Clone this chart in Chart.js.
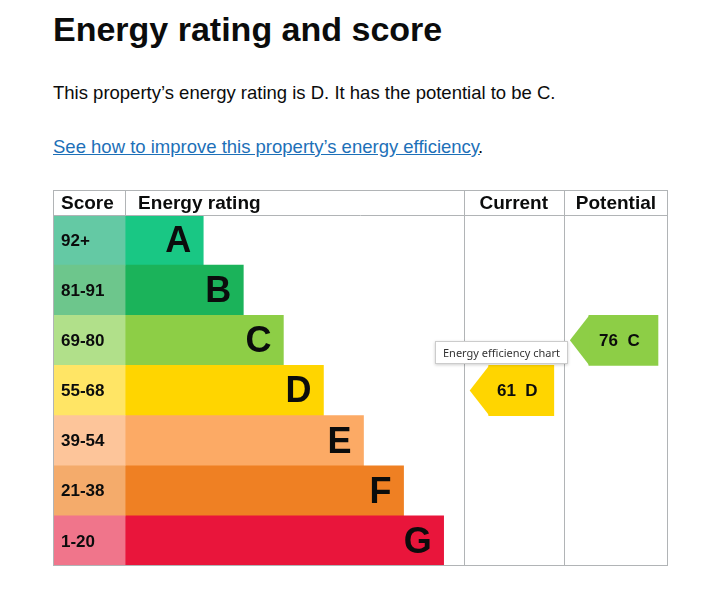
<!DOCTYPE html>
<html><head><meta charset="utf-8">
<script src="https://cdn.jsdelivr.net/npm/chart.js@4"></script>
<style>
body{margin:0;background:#fff;font-family:"Liberation Sans",Arial,sans-serif;color:#0b0c0c;}
h1{position:absolute;left:53px;top:10px;margin:0;font-size:34px;font-weight:bold;}
p.t{position:absolute;left:53px;top:82px;margin:0;font-size:18.5px;}
a.l{position:absolute;left:53px;top:136px;font-size:18.5px;color:#1d70b8;text-decoration:underline;}
#wrap{position:absolute;left:53px;top:190px;width:615px;height:376px;}
#tip{position:absolute;left:435px;top:341px;padding:3px 7px;font-family:"Noto Sans",sans-serif;font-size:11px;color:#333;background:#fff;border:1px solid #ccc;box-shadow:0 1px 3px rgba(0,0,0,.2);}
</style></head><body>
<h1>Energy rating and score</h1>
<p class="t">This property’s energy rating is D. It has the potential to be C.</p>
<a class="l" href="#">See how to improve this property’s energy efficiency</a><span style="position:absolute;left:478px;top:136px;font-size:18.5px">.</span>
<div id="wrap"><canvas id="c"></canvas></div>
<div id="tip">Energy efficiency chart</div>
<script>
const bands = ['A','B','C','D','E','F','G'];
const scores = ['92+','81-91','69-80','55-68','39-54','21-38','1-20'];
const barEnds = [150,190,230,270,310,350,390];
const barColors = ['#19c784','#1bb35a','#8dce46','#ffd500','#fcaa65','#ef8023','#e9153b'];
const scoreColors = ['#64c9a4','#6dc68c','#b1e08a','#ffe565','#fdc59a','#f4ab6b','#f0758b'];
const current = {value:61, band:'D'};
const potential = {value:76, band:'C'};
const colCurrent = [410,510];
const colPotential = [510,614];

const arrowData = (info, col) => bands.map(b => b===info.band ? [col[0]+25, col[1]-10] : null);

const epcPlugin = {
  id:'epc',
  afterDatasetsDraw(chart){
    const {ctx, scales:{x,y}, chartArea:a} = chart;
    const top = a.top - 25;
    ctx.save();
    // arrow tips
    [[current, colCurrent, 2],[potential, colPotential, 3]].forEach(([info,col,di])=>{
      const el = chart.getDatasetMeta(di).data[bands.indexOf(info.band)];
      const l = el.base < el.x ? el.base : el.x, r = Math.max(el.base, el.x);
      const t = el.y - el.height/2, btm = el.y + el.height/2;
      ctx.fillStyle = barColors[bands.indexOf(info.band)];
      ctx.beginPath(); ctx.moveTo(l+0.5,t); ctx.lineTo(l-19,el.y); ctx.lineTo(l+0.5,btm); ctx.closePath(); ctx.fill();
      ctx.fillStyle = '#0b0c0c'; ctx.font = 'bold 17px "Liberation Sans", Arial';
      ctx.textAlign='center'; ctx.textBaseline='middle';
      ctx.fillText(info.value + '  ' + info.band, (l+r)/2 - 4, el.y+1);
    });
    // band labels
    bands.forEach((b,i)=>{
      const yc = y.getPixelForValue(i);
      ctx.fillStyle='#0b0c0c'; ctx.textBaseline='middle';
      ctx.font='bold 36px "Liberation Sans", Arial'; ctx.textAlign='right';
      ctx.fillText(b, x.getPixelForValue(barEnds[i]) - 12, yc + 2);
      ctx.font='bold 17px "Liberation Sans", Arial'; ctx.textAlign='left';
      ctx.fillText(scores[i], x.getPixelForValue(0) + 8, yc + 1);
    });
    // grid
    ctx.strokeStyle='#b1b4b6'; ctx.lineWidth=1;
    ctx.strokeRect(a.left+0.5, top+0.5, a.right-a.left-1, a.bottom-top-1);
    ctx.beginPath();
    ctx.moveTo(a.left, a.top+0.5); ctx.lineTo(a.right, a.top+0.5);
    [72, colCurrent[0], colPotential[0]].forEach(v=>{
      const px = Math.round(x.getPixelForValue(v))+0.5;
      ctx.moveTo(px, top); ctx.lineTo(px, v===72 ? a.top : a.bottom);
    });
    ctx.stroke();
    // headers
    ctx.font='bold 19px "Liberation Sans", Arial'; ctx.textBaseline='middle'; ctx.fillStyle='#0b0c0c';
    ctx.textAlign='left';
    ctx.fillText('Score', x.getPixelForValue(0)+8, top+14);
    ctx.fillText('Energy rating', x.getPixelForValue(72)+13, top+14);
    ctx.textAlign='center';
    ctx.fillText('Current', x.getPixelForValue((colCurrent[0]+colCurrent[1])/2), top+14);
    ctx.fillText('Potential', x.getPixelForValue((colPotential[0]+colPotential[1])/2), top+14);
    ctx.restore();
  }
};

new Chart(document.getElementById('c').getContext('2d'), {
  type:'bar',
  data:{
    labels: bands,
    datasets:[
      {data: bands.map(()=>[0,72]), backgroundColor: scoreColors},
      {data: barEnds.map(e=>[72,e]), backgroundColor: barColors},
      {data: arrowData(current, colCurrent), backgroundColor: barColors},
      {data: arrowData(potential, colPotential), backgroundColor: barColors}
    ]
  },
  options:{
    indexAxis:'y', responsive:true, maintainAspectRatio:false, animation:false,
    datasets:{bar:{grouped:false, barPercentage:1, categoryPercentage:1}},
    layout:{padding:{top:25,left:0,right:0,bottom:0}},
    scales:{
      x:{display:false, min:0, max:614},
      y:{display:false, offset:true}
    },
    plugins:{legend:{display:false}, tooltip:{enabled:false}}
  },
  plugins:[epcPlugin]
});
</script>
</body></html>
